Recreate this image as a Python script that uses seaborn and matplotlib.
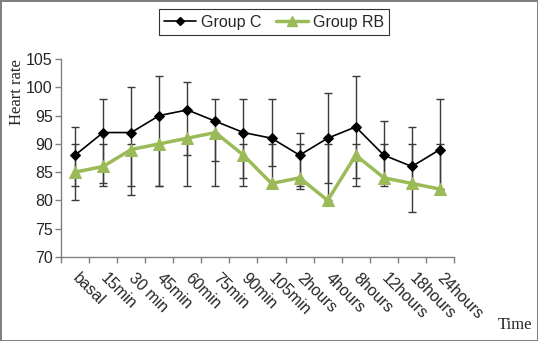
import numpy as np
import pandas as pd
import seaborn as sns
import matplotlib.pyplot as plt
import matplotlib.transforms as mtransforms
from matplotlib.lines import Line2D

# values
times = ["basal", "15min", "30 min", "45min", "60min", "75min", "90min",
         "105min", "2hours", "4hours", "8hours", "12hours", "18hours", "24hours"]
group_c = [88, 92, 92, 95, 96, 94, 92, 91, 88, 91, 93, 88, 86, 89]
group_c_low = [82.5, 83, 81, 82.5, 82.5, 87, 82.5, 86, 82, 83, 82.5, 82.5, 78, 82]
group_c_high = [93, 98, 100, 102, 101, 98, 98, 98, 92, 99, 102, 94, 93, 98]
group_rb = [85, 86, 89, 90, 91, 92, 88, 83, 84, 80, 88, 84, 83, 82]
group_rb_low = [80, 82.5, 82.5, 82.5, 88, 82.5, 84, 82.5, 82.5, 80, 84, 83, 83, 82]
group_rb_high = [90, 90, 90, 90, 91, 92, 90, 90, 90, 90, 90, 90, 90, 90]

sns.set_style("white")
plt.rcParams['font.family'] = ['Liberation Sans', 'DejaVu Sans']

df = pd.DataFrame({"pos": np.arange(len(times)), "time": times,
                   "c": group_c, "rb": group_rb})

fig = plt.figure(figsize=(5.38, 3.41), dpi=100)
ax = fig.add_axes([61/538, 1-257/341, (454-61)/538, (257-59)/341])

green = "#9bbb59"
errcol = "#3a3a3a"

# error bars first so the lines sit on top
ax.errorbar(df["pos"], group_c,
            yerr=[np.array(group_c) - np.array(group_c_low),
                  np.array(group_c_high) - np.array(group_c)],
            fmt="none", ecolor=errcol, elinewidth=1, capsize=3, capthick=1, zorder=2)
ax.errorbar(df["pos"], group_rb,
            yerr=[np.array(group_rb) - np.array(group_rb_low),
                  np.array(group_rb_high) - np.array(group_rb)],
            fmt="none", ecolor=errcol, elinewidth=1, capsize=3, capthick=1, zorder=2)

sns.lineplot(data=df, x="pos", y="c", ax=ax, color="black", lw=1.2,
             marker="D", markersize=5, markeredgecolor="black", zorder=4)
sns.lineplot(data=df, x="pos", y="rb", ax=ax, color=green, lw=2.5,
             marker="^", markersize=9, markeredgecolor=green, zorder=3)

ax.set_xlim(-0.5, len(times) - 0.5)
ax.set_ylim(70, 105)
ax.set_yticks(np.arange(70, 106, 5))
ax.set_xticks(df["pos"])
ax.set_xticklabels(times, rotation=-45, ha="left", va="top",
                   rotation_mode="anchor", fontsize=11.5)
ax.set_xticks(np.arange(-0.5, len(times), 1), minor=True)
ax.tick_params(axis="x", which="major", length=0, pad=10)
ax.tick_params(axis="x", which="minor", length=4, width=1, color="#808080",
               direction="out", bottom=True)
ax.tick_params(axis="y", length=4, width=1, color="#808080", direction="out",
               left=True, labelsize=11.5, pad=2)
shift = mtransforms.ScaledTranslation(5/100, 0, fig.dpi_scale_trans)
for lab in ax.get_xticklabels():
    lab.set_transform(lab.get_transform() + shift)

for s in ["top", "right"]:
    ax.spines[s].set_visible(False)
for s in ["left", "bottom"]:
    ax.spines[s].set_color("#808080")
    ax.spines[s].set_linewidth(1)

ax.set_xlabel("")
ax.set_ylabel("Heart rate", family=["Liberation Serif"], fontsize=12,
              loc="top", labelpad=0.5)
fig.text(498/538, 1-325/341, "Time", family=["Liberation Serif"], fontsize=12,
         ha="left", va="center")

handles = [Line2D([], [], color="black", lw=1.2, marker="D", markersize=4),
           Line2D([], [], color=green, lw=2.5, marker="^", markersize=7)]
leg = fig.legend(handles, ["Group C", "Group RB"], loc="center",
                 bbox_to_anchor=(274/538, 1-22/341), ncol=2, frameon=True,
                 fancybox=False, edgecolor="black", fontsize=11.5,
                 handlelength=2.0, handletextpad=0.3, columnspacing=0.9,
                 borderpad=0.35)
leg.get_frame().set_linewidth(0.8)

fig.patch.set_linewidth(2)
fig.patch.set_edgecolor("#808080")
fig.savefig("out.png", dpi=100, edgecolor="#808080", facecolor="white")
